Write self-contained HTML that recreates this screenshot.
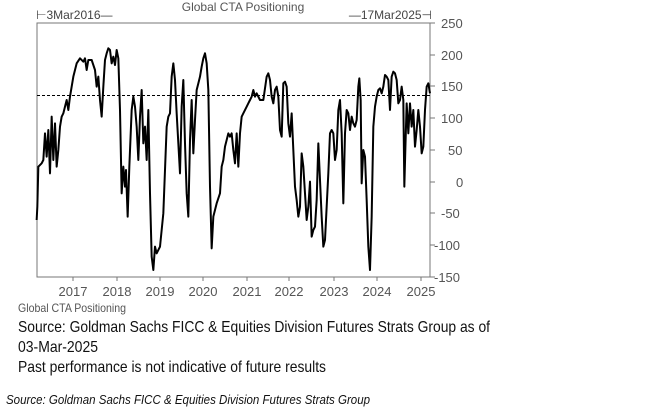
<!DOCTYPE html>
<html><head><meta charset="utf-8"><style>
html,body{margin:0;padding:0;background:#fff;width:645px;height:415px;overflow:hidden}
svg{display:block}
</style></head><body>
<svg width="645" height="415" viewBox="0 0 645 415" xmlns="http://www.w3.org/2000/svg" font-family="Liberation Sans, sans-serif">
<rect x="37" y="23" width="393" height="254" fill="none" stroke="#777" stroke-width="1"/>
<text x="243" y="11" font-size="12" fill="#555" text-anchor="middle">Global CTA Positioning</text>
<text x="36" y="19" font-size="12" fill="#444">⊢3Mar2016—</text>
<text x="432" y="19" font-size="12" fill="#444" text-anchor="end">—17Mar2025⊣</text>
<g font-size="13" fill="#555">
<line x1="430" y1="23" x2="435" y2="23" stroke="#777"/><text x="441" y="28">250</text>
<line x1="430" y1="55" x2="435" y2="55" stroke="#777"/><text x="441" y="60">200</text>
<line x1="430" y1="86" x2="435" y2="86" stroke="#777"/><text x="441" y="91">150</text>
<line x1="430" y1="118" x2="435" y2="118" stroke="#777"/><text x="441" y="123">100</text>
<line x1="430" y1="150" x2="435" y2="150" stroke="#777"/><text x="448" y="155">50</text>
<line x1="430" y1="182" x2="435" y2="182" stroke="#777"/><text x="456" y="187">0</text>
<line x1="430" y1="213" x2="435" y2="213" stroke="#777"/><text x="441" y="218">-50</text>
<line x1="430" y1="245" x2="435" y2="245" stroke="#777"/><text x="434" y="250">-100</text>
<line x1="430" y1="277" x2="435" y2="277" stroke="#777"/><text x="434" y="282">-150</text>
</g>
<g stroke="#777">
<line x1="73" y1="277" x2="73" y2="281"/><line x1="117" y1="277" x2="117" y2="281"/><line x1="160" y1="277" x2="160" y2="281"/><line x1="203" y1="277" x2="203" y2="281"/><line x1="247" y1="277" x2="247" y2="281"/><line x1="289" y1="277" x2="289" y2="281"/><line x1="334" y1="277" x2="334" y2="281"/><line x1="377" y1="277" x2="377" y2="281"/><line x1="421" y1="277" x2="421" y2="281"/>
</g>
<g font-size="13" fill="#555" text-anchor="middle">
<text x="73" y="296">2017</text><text x="117" y="296">2018</text><text x="160" y="296">2019</text><text x="203" y="296">2020</text><text x="247" y="296">2021</text><text x="289" y="296">2022</text><text x="334" y="296">2023</text><text x="377" y="296">2024</text><text x="421" y="296">2025</text>
</g>
<line x1="37" y1="95.5" x2="430" y2="95.5" stroke="#000" stroke-dasharray="3,2" stroke-width="1"/>
<g transform="scale(0.33333)">
<polyline fill="none" stroke="#000" stroke-width="6" stroke-linejoin="round" points="110,660 112,620 115,500 125,490 130,480 135,400 140,470 145,390 150,520 155,350 160,480 165,370 170,500 175,450 180,380 185,350 190,340 195,320 200,300 205,330 210,290 215,260 220,230 225,210 230,190 240,175 250,185 255,175 260,210 265,180 275,180 285,210 290,260 295,230 300,300 305,350 310,260 315,180 320,160 325,145 330,150 335,190 340,170 345,195 350,150 355,175 360,330 365,580 370,500 375,560 378,510 383,650 388,500 395,330 400,290 405,320 410,380 415,480 420,350 425,270 430,430 435,380 440,480 445,330 450,580 455,770 460,810 465,740 470,760 480,740 490,640 500,380 505,350 510,340 515,230 520,190 525,240 530,340 535,430 540,520 545,320 550,240 555,430 560,580 565,650 570,420 575,300 580,460 585,360 590,270 595,250 600,230 605,200 610,175 615,160 620,190 625,270 630,560 635,745 640,650 645,630 650,610 660,580 665,500 670,480 675,440 680,420 685,400 690,410 695,400 700,450 705,490 710,400 715,500 720,400 725,350 730,340 740,320 745,310 750,300 755,290 760,270 765,290 770,280 780,300 790,300 800,230 805,220 810,240 815,290 820,310 825,270 830,260 835,290 840,390 845,410 850,250 855,245 860,260 865,370 870,410 875,340 880,450 885,560 890,600 895,650 900,620 905,460 910,500 915,580 920,660 925,620 930,545 935,710 940,690 945,680 950,600 955,430 960,540 965,650 970,740 975,720 980,620 985,520 990,400 995,390 1000,400 1005,480 1010,450 1015,330 1020,300 1025,400 1030,610 1035,400 1040,330 1045,340 1050,390 1055,350 1060,370 1065,380 1070,360 1075,260 1078,235 1082,300 1085,550 1090,450 1095,470 1100,600 1105,740 1110,810 1115,650 1120,380 1125,320 1130,290 1135,270 1140,265 1145,280 1150,260 1155,225 1160,230 1165,240 1170,330 1175,230 1180,215 1185,220 1190,240 1195,310 1200,300 1205,260 1210,300 1213,560 1216,450 1220,310 1225,400 1230,310 1235,380 1240,330 1245,440 1250,390 1255,330 1260,380 1265,460 1270,440 1275,330 1280,260 1285,250 1290,280"/>
</g>
<text x="18" y="312" font-size="12" fill="#555" textLength="108" lengthAdjust="spacingAndGlyphs">Global CTA Positioning</text>
<text x="18" y="332" font-size="16" fill="#111" textLength="472" lengthAdjust="spacingAndGlyphs">Source: Goldman Sachs FICC &amp; Equities Division Futures Strats Group as of</text>
<text x="18" y="352" font-size="16" fill="#111" textLength="80" lengthAdjust="spacingAndGlyphs">03-Mar-2025</text>
<text x="18" y="372" font-size="16" fill="#111" textLength="308" lengthAdjust="spacingAndGlyphs">Past performance is not indicative of future results</text>
<text x="6" y="404" font-size="13" font-style="italic" fill="#111" textLength="364" lengthAdjust="spacingAndGlyphs">Source: Goldman Sachs FICC &amp; Equities Division Futures Strats Group</text>
</svg>
</body></html>
